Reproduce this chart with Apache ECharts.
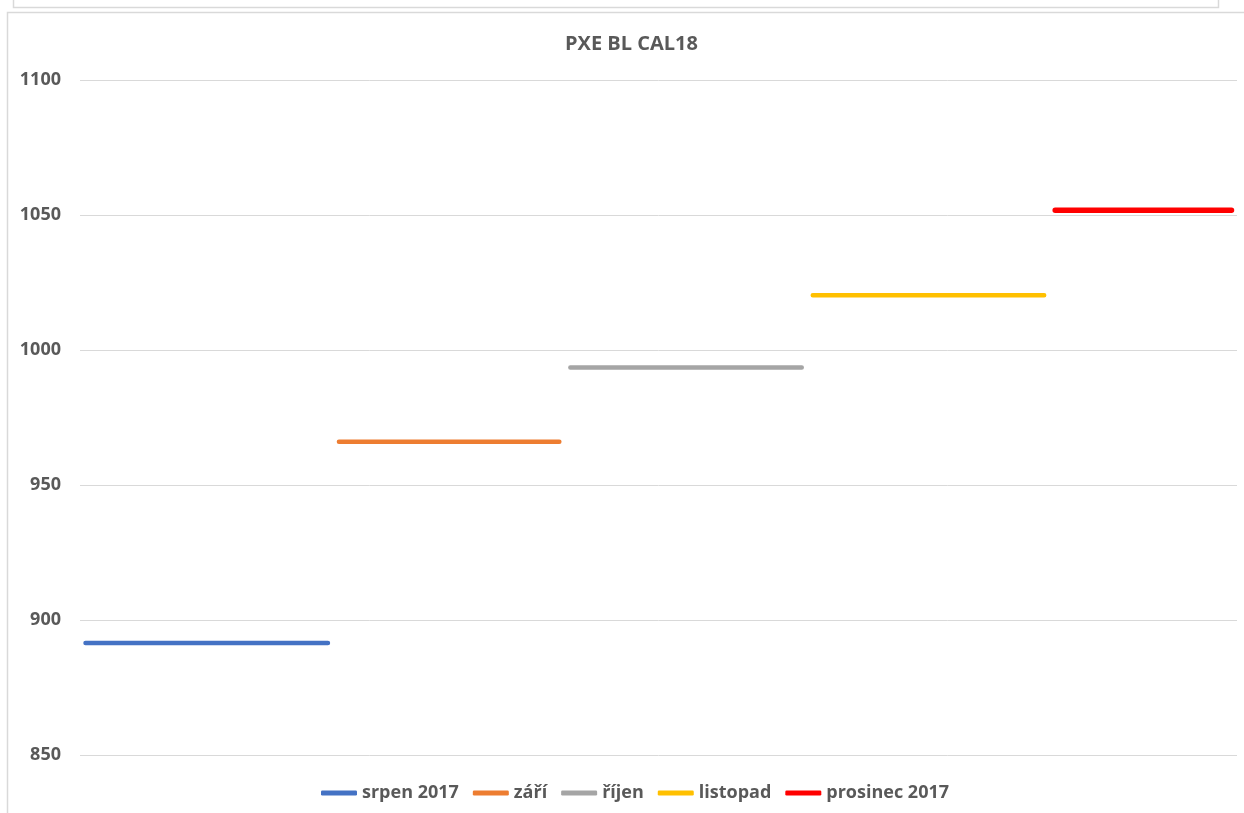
<!DOCTYPE html>
<html>
<head>
<meta charset="utf-8">
<script src="https://cdn.jsdelivr.net/npm/echarts@6/dist/echarts.min.js"></script>
<style>
html,body{margin:0;padding:0;background:#fff;}
#chart{width:1244px;height:813px;}
</style>
</head>
<body>
<div id="chart"></div>
<script>
// Data
const seriesNames = ['srpen 2017', 'září', 'říjen', 'listopad', 'prosinec 2017'];
const monthValues = [891.5, 966, 993.5, 1020.3, 1051.8];
const tradingDays = [23, 21, 22, 22, 17];
const seriesColors = ['#4472C4', '#ED7D31', '#A5A5A5', '#FFC000', '#FF0000'];
const yTicks = [850, 900, 950, 1000, 1050, 1100];

// Build category axis (one slot per trading day)
const totalDays = tradingDays.reduce((a, b) => a + b, 0);
const categories = [];
for (let i = 0; i < totalDays; i++) categories.push(String(i + 1));

let start = 0;
const series = seriesNames.map((name, i) => {
  const data = new Array(totalDays).fill(null);
  for (let d = start; d < start + tradingDays[i]; d++) data[d] = monthValues[i];
  start += tradingDays[i];
  return {
    name: name,
    type: 'line',
    data: data,
    showSymbol: false,
    symbol: 'none',
    connectNulls: false,
    color: seriesColors[i],
    lineStyle: { width: i === 4 ? 5.5 : 4.5, color: seriesColors[i], cap: 'round' },
    emphasis: { disabled: true },
    animation: false
  };
});

const font = '"Open Sans", "Liberation Sans", sans-serif';
const chart = echarts.init(document.getElementById('chart'));
chart.setOption({
  animation: false,
  backgroundColor: '#ffffff',
  title: {
    text: 'PXE BL CAL18',
    left: 560,
    top: 29,
    textStyle: { fontFamily: font, fontSize: 20, fontWeight: 'bold', color: '#595959' }
  },
  legend: {
    data: seriesNames,
    bottom: 11,
    left: 321,
    padding: 0,
    icon: 'roundRect',
    itemWidth: 36,
    itemHeight: 5,
    itemGap: 14,
    textStyle: { fontFamily: font, fontSize: 18, fontWeight: 'bold', color: '#595959' }
  },
  grid: { left: 80, right: 7, top: 80, bottom: 58, containLabel: false },
  xAxis: {
    type: 'category',
    data: categories,
    boundaryGap: true,
    axisLine: { show: false },
    axisTick: { show: false },
    axisLabel: { show: false },
    splitLine: { show: false }
  },
  yAxis: {
    type: 'value',
    min: yTicks[0],
    max: yTicks[yTicks.length - 1],
    interval: 50,
    axisLine: { show: false },
    axisTick: { show: false },
    axisLabel: { margin: 19, fontFamily: font, fontSize: 18, fontWeight: 'bold', color: '#595959', formatter: v => String(v) },
    splitLine: { lineStyle: { color: '#d9d9d9', width: 1 } }
  },
  graphic: [
    { type: 'rect', shape: { x: 13.5, y: -10, width: 1205, height: 17.5 }, style: { fill: 'none', stroke: '#d9d9d9', lineWidth: 1.5 }, silent: true },
    { type: 'rect', shape: { x: 7.5, y: 12.5, width: 1250, height: 820 }, style: { fill: 'none', stroke: '#d9d9d9', lineWidth: 1.5 }, silent: true }
  ],
  series: series
});
</script>
</body>
</html>
